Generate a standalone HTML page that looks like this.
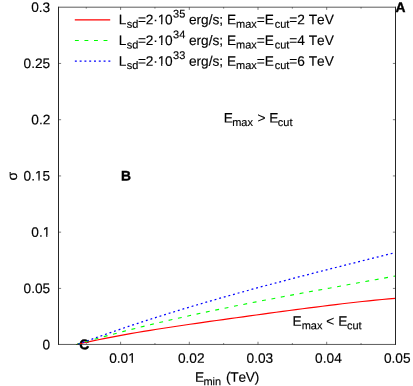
<!DOCTYPE html>
<html><head><meta charset="utf-8"><title>plot</title>
<style>
html,body{margin:0;padding:0;background:#fff;}
body{width:413px;height:386px;overflow:hidden;}
svg{display:block;will-change:transform;}
text{font-family:"Liberation Sans",sans-serif;font-size:13.7px;fill:#000;font-kerning:none;stroke:#000;stroke-width:0.15px;}
</style></head><body>
<svg width="413" height="386" viewBox="0 0 413 386">
<rect width="413" height="386" fill="#fff"/>
<text x="79.33" y="349.35" transform="rotate(0.05 79.33 349.35)" style="font-size:13.9px;font-weight:bold;stroke-width:0.4px;">C</text>
<path d="M75.9,344.50 L77.0,344.36 L78.0,344.13 L79.0,343.90 L80.0,343.67 L82.0,343.22 L84.0,342.77 L90.6,341.33 L97.2,339.95 L103.9,338.61 L110.5,337.32 L117.1,336.07 L123.7,334.87 L130.4,333.69 L137.0,332.55 L143.6,331.44 L150.2,330.36 L156.9,329.30 L163.5,328.26 L170.1,327.25 L176.7,326.25 L183.4,325.26 L190.0,324.29 L196.6,323.32 L203.2,322.37 L209.8,321.43 L216.5,320.49 L223.1,319.56 L229.7,318.64 L236.3,317.72 L243.0,316.81 L249.6,315.90 L256.2,314.99 L262.8,314.09 L269.5,313.19 L276.1,312.29 L282.7,311.40 L289.3,310.52 L295.9,309.64 L302.6,308.77 L309.2,307.91 L315.8,307.06 L322.4,306.22 L329.1,305.40 L335.7,304.59 L342.3,303.79 L348.9,303.02 L355.6,302.26 L362.2,301.54 L368.8,300.83 L375.4,300.16 L382.1,299.52 L388.7,298.92 L395.3,298.36" stroke="#ff0000" stroke-width="1.15" fill="none"/>
<path d="M75.9,344.50 L77.0,344.23 L78.0,343.94 L79.0,343.64 L80.0,343.35 L82.0,342.77 L84.0,342.20 L90.6,340.31 L97.2,338.45 L103.9,336.63 L110.5,334.84 L117.1,333.09 L123.7,331.36 L130.4,329.66 L137.0,327.99 L143.6,326.35 L150.2,324.74 L156.9,323.15 L163.5,321.59 L170.1,320.05 L176.7,318.53 L183.4,317.04 L190.0,315.57 L196.6,314.12 L203.2,312.69 L209.8,311.28 L216.5,309.89 L223.1,308.52 L229.7,307.16 L236.3,305.81 L243.0,304.49 L249.6,303.17 L256.2,301.87 L262.8,300.58 L269.5,299.31 L276.1,298.04 L282.7,296.78 L289.3,295.53 L295.9,294.29 L302.6,293.06 L309.2,291.83 L315.8,290.61 L322.4,289.39 L329.1,288.17 L335.7,286.96 L342.3,285.75 L348.9,284.54 L355.6,283.33 L362.2,282.12 L368.8,280.91 L375.4,279.69 L382.1,278.47 L388.7,277.25 L395.3,276.02" stroke="#00ff00" stroke-width="1.1" fill="none" stroke-dasharray="3.9 5.65" stroke-dashoffset="-0.3"/>
<path d="M75.9,344.50 L77.0,344.50 L78.0,344.29 L79.0,343.92 L80.0,343.55 L82.0,342.81 L84.0,342.07 L90.6,339.65 L97.2,337.26 L103.9,334.90 L110.5,332.58 L117.1,330.29 L123.7,328.03 L130.4,325.80 L137.0,323.60 L143.6,321.43 L150.2,319.29 L156.9,317.17 L163.5,315.08 L170.1,313.02 L176.7,310.98 L183.4,308.97 L190.0,306.98 L196.6,305.01 L203.2,303.06 L209.8,301.14 L216.5,299.23 L223.1,297.35 L229.7,295.48 L236.3,293.63 L243.0,291.80 L249.6,289.98 L256.2,288.18 L262.8,286.40 L269.5,284.63 L276.1,282.87 L282.7,281.12 L289.3,279.39 L295.9,277.67 L302.6,275.95 L309.2,274.25 L315.8,272.56 L322.4,270.87 L329.1,269.19 L335.7,267.51 L342.3,265.84 L348.9,264.18 L355.6,262.52 L362.2,260.86 L368.8,259.21 L375.4,257.55 L382.1,255.90 L388.7,254.25 L395.3,252.59" stroke="#0000ff" stroke-width="1.25" fill="none" stroke-dasharray="1.9 2.89" stroke-dashoffset="-2.1"/>
<g stroke="#262626" fill="none">
<line x1="58.5" y1="6.825" x2="58.5" y2="344.825" stroke-width="1"/>
<line x1="395.5" y1="6.825" x2="395.5" y2="344.825" stroke-width="1"/>
<line x1="58.0" y1="7.2" x2="396.0" y2="7.2" stroke-width="0.75"/>
<line x1="58.0" y1="344.45" x2="396.0" y2="344.45" stroke-width="0.75"/>
</g>
<g stroke="#222" stroke-width="0.6" fill="none">
<line x1="120.60" y1="344.45" x2="120.60" y2="341.75"/>
<line x1="120.60" y1="7.2" x2="120.60" y2="9.9"/>
<line x1="86.25" y1="344.45" x2="86.25" y2="343.05"/>
<line x1="86.25" y1="7.2" x2="86.25" y2="8.6"/>
<line x1="189.30" y1="344.45" x2="189.30" y2="341.75"/>
<line x1="189.30" y1="7.2" x2="189.30" y2="9.9"/>
<line x1="154.95" y1="344.45" x2="154.95" y2="343.05"/>
<line x1="154.95" y1="7.2" x2="154.95" y2="8.6"/>
<line x1="258.00" y1="344.45" x2="258.00" y2="341.75"/>
<line x1="258.00" y1="7.2" x2="258.00" y2="9.9"/>
<line x1="223.65" y1="344.45" x2="223.65" y2="343.05"/>
<line x1="223.65" y1="7.2" x2="223.65" y2="8.6"/>
<line x1="326.70" y1="344.45" x2="326.70" y2="341.75"/>
<line x1="326.70" y1="7.2" x2="326.70" y2="9.9"/>
<line x1="292.35" y1="344.45" x2="292.35" y2="343.05"/>
<line x1="292.35" y1="7.2" x2="292.35" y2="8.6"/>
<line x1="361.05" y1="344.45" x2="361.05" y2="343.05"/>
<line x1="361.05" y1="7.2" x2="361.05" y2="8.6"/>
<line x1="58.5" y1="288.41" x2="61.1" y2="288.41"/>
<line x1="395.5" y1="288.41" x2="392.9" y2="288.41"/>
<line x1="58.5" y1="232.17" x2="61.1" y2="232.17"/>
<line x1="395.5" y1="232.17" x2="392.9" y2="232.17"/>
<line x1="58.5" y1="175.93" x2="61.1" y2="175.93"/>
<line x1="395.5" y1="175.93" x2="392.9" y2="175.93"/>
<line x1="58.5" y1="119.69" x2="61.1" y2="119.69"/>
<line x1="395.5" y1="119.69" x2="392.9" y2="119.69"/>
<line x1="58.5" y1="63.45" x2="61.1" y2="63.45"/>
<line x1="395.5" y1="63.45" x2="392.9" y2="63.45"/>
</g>
<line x1="74.8" y1="19.95" x2="110.2" y2="19.95" stroke="#ff0000" stroke-width="1.25"/>
<line x1="74.9" y1="40.55" x2="110" y2="40.55" stroke="#00ff00" stroke-width="1.05" stroke-dasharray="3.9 5.65"/>
<line x1="74.85" y1="61.0" x2="110.5" y2="61.0" stroke="#0000ff" stroke-width="1.25" stroke-dasharray="1.95 2.84"/>
<text x="118.80" y="24.30" transform="rotate(0.05 118.80 24.30)">L</text>
<text x="126.85" y="27.70" transform="rotate(0.05 126.85 27.70)" style="font-size:11.0px;">sd</text>
<text x="137.93" y="24.30" transform="rotate(0.05 137.93 24.30)" letter-spacing="-0.15">=2·10</text>
<text x="173.03" y="17.60" transform="rotate(0.05 173.03 17.60)" style="font-size:11.0px;">35</text>
<text x="188.90" y="24.30" transform="rotate(0.05 188.90 24.30)">erg/s;</text>
<text x="227.00" y="24.30" transform="rotate(0.05 227.00 24.30)">E</text>
<text x="236.07" y="27.70" transform="rotate(0.05 236.07 27.70)" style="font-size:11.0px;">max</text>
<text x="256.68" y="24.30" transform="rotate(0.05 256.68 24.30)">=E</text>
<text x="274.73" y="27.70" transform="rotate(0.05 274.73 27.70)" style="font-size:11.0px;">cut</text>
<text x="289.27" y="24.30" transform="rotate(0.05 289.27 24.30)">=2</text>
<text x="308.75" y="24.30" transform="rotate(0.05 308.75 24.30)">TeV</text>
<text x="118.80" y="45.00" transform="rotate(0.05 118.80 45.00)">L</text>
<text x="126.85" y="48.40" transform="rotate(0.05 126.85 48.40)" style="font-size:11.0px;">sd</text>
<text x="137.93" y="45.00" transform="rotate(0.05 137.93 45.00)" letter-spacing="-0.15">=2·10</text>
<text x="173.03" y="38.30" transform="rotate(0.05 173.03 38.30)" style="font-size:11.0px;">34</text>
<text x="188.90" y="45.00" transform="rotate(0.05 188.90 45.00)">erg/s;</text>
<text x="227.00" y="45.00" transform="rotate(0.05 227.00 45.00)">E</text>
<text x="236.07" y="48.40" transform="rotate(0.05 236.07 48.40)" style="font-size:11.0px;">max</text>
<text x="256.68" y="45.00" transform="rotate(0.05 256.68 45.00)">=E</text>
<text x="274.73" y="48.40" transform="rotate(0.05 274.73 48.40)" style="font-size:11.0px;">cut</text>
<text x="289.27" y="45.00" transform="rotate(0.05 289.27 45.00)">=4</text>
<text x="308.75" y="45.00" transform="rotate(0.05 308.75 45.00)">TeV</text>
<text x="118.80" y="65.70" transform="rotate(0.05 118.80 65.70)">L</text>
<text x="126.85" y="69.10" transform="rotate(0.05 126.85 69.10)" style="font-size:11.0px;">sd</text>
<text x="137.93" y="65.70" transform="rotate(0.05 137.93 65.70)" letter-spacing="-0.15">=2·10</text>
<text x="173.03" y="59.00" transform="rotate(0.05 173.03 59.00)" style="font-size:11.0px;">33</text>
<text x="188.90" y="65.70" transform="rotate(0.05 188.90 65.70)">erg/s;</text>
<text x="227.00" y="65.70" transform="rotate(0.05 227.00 65.70)">E</text>
<text x="236.07" y="69.10" transform="rotate(0.05 236.07 69.10)" style="font-size:11.0px;">max</text>
<text x="256.68" y="65.70" transform="rotate(0.05 256.68 65.70)">=E</text>
<text x="274.73" y="69.10" transform="rotate(0.05 274.73 69.10)" style="font-size:11.0px;">cut</text>
<text x="289.27" y="65.70" transform="rotate(0.05 289.27 65.70)">=6</text>
<text x="308.75" y="65.70" transform="rotate(0.05 308.75 65.70)">TeV</text>
<text x="42.52" y="349.30" transform="rotate(0.05 42.52 349.30)">0</text>
<text x="23.52" y="293.06" transform="rotate(0.05 23.52 293.06)">0.05</text>
<text x="31.27" y="236.82" transform="rotate(0.05 31.27 236.82)">0.1</text>
<text x="23.52" y="180.58" transform="rotate(0.05 23.52 180.58)">0.15</text>
<text x="31.27" y="124.34" transform="rotate(0.05 31.27 124.34)">0.2</text>
<text x="23.52" y="68.10" transform="rotate(0.05 23.52 68.10)">0.25</text>
<text x="31.15" y="11.86" transform="rotate(0.05 31.15 11.86)">0.3</text>
<text x="109.20" y="362.70" transform="rotate(0.05 109.20 362.70)">0.01</text>
<text x="177.90" y="362.70" transform="rotate(0.05 177.90 362.70)">0.02</text>
<text x="246.54" y="362.70" transform="rotate(0.05 246.54 362.70)">0.03</text>
<text x="315.11" y="362.70" transform="rotate(0.05 315.11 362.70)">0.04</text>
<text x="383.94" y="362.70" transform="rotate(0.05 383.94 362.70)">0.05</text>
<text x="195.00" y="381.80" transform="rotate(0.05 195.00 381.80)">E</text>
<text x="203.38" y="385.20" transform="rotate(0.05 203.38 385.20)" style="font-size:11.0px;">min</text>
<text x="225.95" y="381.80" transform="rotate(0.05 225.95 381.80)" letter-spacing="-0.2">(TeV)</text>
<text transform="translate(16.95,180.6) rotate(-90.05) scale(1.02,1)">σ</text>
<text x="223.80" y="122.60" transform="rotate(0.05 223.80 122.60)">E</text>
<text x="232.18" y="126.00" transform="rotate(0.05 232.18 126.00)" style="font-size:11.0px;">max</text>
<text x="257.57" y="122.60" transform="rotate(0.05 257.57 122.60)">&gt;</text>
<text x="269.20" y="122.60" transform="rotate(0.05 269.20 122.60)">E</text>
<text x="277.82" y="126.00" transform="rotate(0.05 277.82 126.00)" style="font-size:11.0px;">cut</text>
<text x="292.50" y="325.80" transform="rotate(0.05 292.50 325.80)">E</text>
<text x="301.68" y="329.20" transform="rotate(0.05 301.68 329.20)" style="font-size:11.0px;">max</text>
<text x="326.18" y="325.80" transform="rotate(0.05 326.18 325.80)">&lt;</text>
<text x="338.30" y="325.80" transform="rotate(0.05 338.30 325.80)">E</text>
<text x="346.93" y="329.20" transform="rotate(0.05 346.93 329.20)" style="font-size:11.0px;">cut</text>
<text x="395.57" y="12.05" transform="rotate(0.05 395.57 12.05)" style="font-size:13.8px;font-weight:bold;stroke-width:0.4px;">A</text>
<text x="121.00" y="180.50" transform="rotate(0.05 121.00 180.50)" style="font-size:13.8px;font-weight:bold;stroke-width:0.4px;">B</text>
<g fill="#fff"><rect x="158.03" y="22.60" width="2.98" height="2.60"/><rect x="162.38" y="22.60" width="3.25" height="2.60"/><rect x="158.03" y="43.30" width="2.98" height="2.60"/><rect x="162.38" y="43.30" width="3.25" height="2.60"/><rect x="158.03" y="64.00" width="2.98" height="2.60"/><rect x="162.38" y="64.00" width="3.25" height="2.60"/><rect x="43.08" y="235.12" width="2.98" height="2.60"/><rect x="47.43" y="235.12" width="3.25" height="2.60"/><rect x="35.33" y="178.88" width="2.98" height="2.60"/><rect x="39.68" y="178.88" width="3.25" height="2.60"/><rect x="128.62" y="361.00" width="2.98" height="2.60"/><rect x="132.97" y="361.00" width="3.25" height="2.60"/></g>
</svg></body></html>
